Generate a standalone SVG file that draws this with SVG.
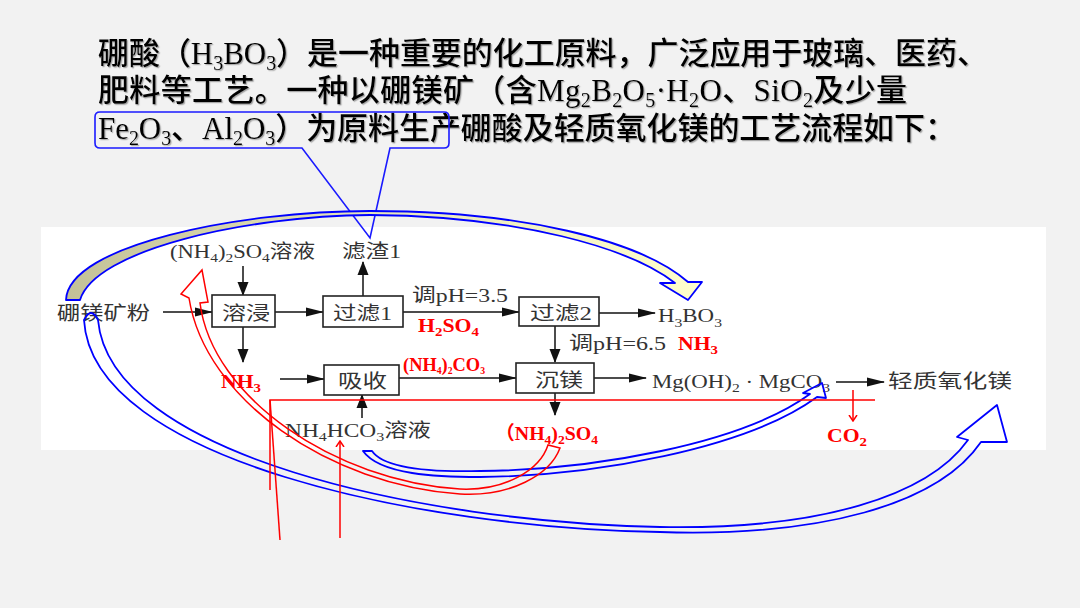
<svg xmlns="http://www.w3.org/2000/svg" width="1080" height="608" viewBox="0 0 1080 608">
<defs>
<style>
.title{font-family:"Liberation Serif","Noto Sans CJK SC",sans-serif;font-size:31px;font-weight:500;fill:#000;}
.ft{font-family:"Liberation Serif","Noto Sans CJK SC",serif;font-size:19px;fill:#333;}
.rt{font-family:"Liberation Serif","Noto Sans CJK SC",serif;font-size:19px;font-weight:bold;fill:#ff0000;}
.box{fill:#fff;stroke:#222;stroke-width:1.6;}
.ln{fill:none;stroke:#111;stroke-width:1.5;}
.red{fill:none;stroke:#ff0000;stroke-width:1.5;}
.blue{fill:none;stroke:#0000ff;stroke-width:1.8;stroke-linejoin:round;}
</style>
<marker id="ah" markerWidth="18" markerHeight="10" refX="17" refY="5" orient="auto" markerUnits="userSpaceOnUse"><path d="M0,0.5 L18,5 L0,9.5 Z" fill="#111"/></marker>
<marker id="av" markerWidth="14" markerHeight="12" refX="13" refY="6" orient="auto" markerUnits="userSpaceOnUse"><path d="M0,0.5 L14,6 L0,11.5 Z" fill="#111"/></marker>
<marker id="rv" markerWidth="7" markerHeight="10" refX="6" refY="5" orient="auto" markerUnits="userSpaceOnUse"><path d="M0,1 L6,5 L0,9" fill="none" stroke="#ff0000" stroke-width="1.5"/></marker>
<linearGradient id="olive" gradientUnits="userSpaceOnUse" x1="60" y1="0" x2="700" y2="0">
<stop offset="0" stop-color="#c2c097"/>
<stop offset="0.45" stop-color="#e4e3b8"/>
<stop offset="1" stop-color="#ffffcc"/>
</linearGradient>
<filter id="sh" x="-5%" y="-20%" width="110%" height="140%"><feDropShadow dx="1.2" dy="1.2" stdDeviation="0.6" flood-color="#777" flood-opacity="0.6"/></filter>
</defs>

<rect x="0" y="0" width="1080" height="608" fill="#f2f2f2"/>
<rect x="41" y="227" width="1005" height="223" fill="#ffffff"/>

<g id="title" filter="url(#sh)">
<text class="title" x="98" y="64" textLength="890" lengthAdjust="spacing">硼酸（H<tspan dy="6" font-size="20">3</tspan><tspan dy="-6">BO</tspan><tspan dy="6" font-size="20">3</tspan><tspan dy="-6">）是一种重要的化工原料，广泛应用于玻璃、医药、</tspan></text>
<text class="title" x="98" y="101" textLength="809" lengthAdjust="spacing">肥料等工艺。一种以硼镁矿（含Mg<tspan dy="6" font-size="20">2</tspan><tspan dy="-6">B</tspan><tspan dy="6" font-size="20">2</tspan><tspan dy="-6">O</tspan><tspan dy="6" font-size="20">5</tspan><tspan dy="-6">·H</tspan><tspan dy="6" font-size="20">2</tspan><tspan dy="-6">O、SiO</tspan><tspan dy="6" font-size="20">2</tspan><tspan dy="-6">及少量</tspan></text>
<text class="title" x="98" y="139" textLength="858" lengthAdjust="spacing">Fe<tspan dy="6" font-size="20">2</tspan><tspan dy="-6">O</tspan><tspan dy="6" font-size="20">3</tspan><tspan dy="-6">、Al</tspan><tspan dy="6" font-size="20">2</tspan><tspan dy="-6">O</tspan><tspan dy="6" font-size="20">3</tspan><tspan dy="-6">）为原料生产硼酸及轻质氧化镁的工艺流程如下：</tspan></text>
</g>

<g id="callout">
<path d="M302,148 L100,148 Q95,148 95,143 L95,117 Q95,112 100,112 L444,112 Q449,112 449,117 L449,143 Q449,148 444,148 L390,148 L370,238 Z" fill="none" stroke="#1a1aff" stroke-width="1.6"/>
</g>

<g id="connectors">
<line class="ln" x1="163" y1="312" x2="212" y2="312" marker-end="url(#ah)"/>
<line class="ln" x1="275" y1="312" x2="323" y2="312" marker-end="url(#ah)"/>
<line class="ln" x1="403" y1="312" x2="519" y2="312" marker-end="url(#ah)"/>
<line class="ln" x1="599" y1="313" x2="655" y2="313" marker-end="url(#ah)"/>
<line class="ln" x1="243" y1="266" x2="243" y2="295" marker-end="url(#av)"/>
<line class="ln" x1="363" y1="296" x2="363" y2="262" marker-end="url(#av)"/>
<line class="ln" x1="243" y1="327" x2="243" y2="362" marker-end="url(#av)"/>
<line class="ln" x1="555" y1="326" x2="555" y2="362" marker-end="url(#av)"/>
<line class="ln" x1="280" y1="379" x2="324" y2="379" marker-end="url(#ah)"/>
<line class="ln" x1="399" y1="378" x2="516" y2="378" marker-end="url(#ah)"/>
<line class="ln" x1="594" y1="378" x2="646" y2="378" marker-end="url(#ah)"/>
<line class="ln" x1="836" y1="382" x2="884" y2="382" marker-end="url(#ah)"/>
<line class="ln" x1="362" y1="418" x2="362" y2="395" marker-end="url(#av)"/>
<line class="ln" x1="555" y1="393" x2="555" y2="415" marker-end="url(#av)"/>
</g>

<g id="node-ore"><text class="ft" x="57" y="320" textLength="93" lengthAdjust="spacingAndGlyphs">硼镁矿粉</text></g>
<g id="node-nh4so4-in"><text class="ft" x="170" y="258" textLength="145" lengthAdjust="spacingAndGlyphs">(NH<tspan dy="4" font-size="13">4</tspan><tspan dy="-4">)</tspan><tspan dy="4" font-size="13">2</tspan><tspan dy="-4">SO</tspan><tspan dy="4" font-size="13">4</tspan><tspan dy="-4">溶液</tspan></text></g>
<g id="node-residue"><text class="ft" x="342" y="258" textLength="59" lengthAdjust="spacingAndGlyphs">滤渣1</text></g>
<g id="node-leach"><rect class="box" x="212" y="295" width="63" height="32"/><text class="ft" x="222" y="320" textLength="48" lengthAdjust="spacingAndGlyphs">溶浸</text></g>
<g id="node-filter1"><rect class="box" x="323" y="296" width="80" height="31"/><text class="ft" x="333" y="320" textLength="59" lengthAdjust="spacingAndGlyphs">过滤1</text></g>
<g id="node-ph35"><text class="ft" x="412" y="302" textLength="96" lengthAdjust="spacingAndGlyphs">调pH=3.5</text><text class="rt" x="418" y="332" textLength="61" lengthAdjust="spacingAndGlyphs">H<tspan dy="4" font-size="13">2</tspan><tspan dy="-4">SO</tspan><tspan dy="4" font-size="13">4</tspan></text></g>
<g id="node-filter2"><rect class="box" x="519" y="297" width="80" height="29"/><text class="ft" x="530" y="320" textLength="62" lengthAdjust="spacingAndGlyphs">过滤2</text></g>
<g id="node-h3bo3"><text class="ft" x="658" y="322" textLength="64" lengthAdjust="spacingAndGlyphs">H<tspan dy="5" font-size="13">3</tspan><tspan dy="-5">BO</tspan><tspan dy="5" font-size="13">3</tspan></text></g>
<g id="node-ph65"><text class="ft" x="569" y="350" textLength="97" lengthAdjust="spacingAndGlyphs">调pH=6.5</text><text class="rt" x="678" y="350" textLength="40" lengthAdjust="spacingAndGlyphs">NH<tspan dy="4" font-size="13">3</tspan></text></g>
<g id="node-nh3"><text class="rt" x="221" y="388" textLength="40" lengthAdjust="spacingAndGlyphs">NH<tspan dy="4" font-size="13">3</tspan></text></g>
<g id="node-absorb"><rect class="box" x="324" y="365" width="75" height="30"/><text class="ft" x="338" y="388" textLength="49" lengthAdjust="spacingAndGlyphs">吸收</text></g>
<g id="node-nh4co3"><text class="rt" x="403" y="371" font-size="14" textLength="82" lengthAdjust="spacingAndGlyphs">(NH<tspan dy="3" font-size="10">4</tspan><tspan dy="-3">)</tspan><tspan dy="3" font-size="10">2</tspan><tspan dy="-3">CO</tspan><tspan dy="3" font-size="10">3</tspan></text></g>
<g id="node-precip"><rect class="box" x="516" y="363" width="78" height="30"/><text class="ft" x="535" y="387" textLength="48" lengthAdjust="spacingAndGlyphs">沉镁</text></g>
<g id="node-mg"><text class="ft" x="652" y="388" textLength="178" lengthAdjust="spacingAndGlyphs">Mg(OH)<tspan dy="4" font-size="13">2</tspan><tspan dy="-4"> · MgCO</tspan><tspan dy="4" font-size="13">3</tspan></text></g>
<g id="node-mgo"><text class="ft" x="888" y="388" textLength="124" lengthAdjust="spacingAndGlyphs">轻质氧化镁</text></g>
<g id="node-nh4hco3"><text class="ft" x="285" y="437" textLength="146" lengthAdjust="spacingAndGlyphs">NH<tspan dy="4" font-size="13">4</tspan><tspan dy="-4">HCO</tspan><tspan dy="4" font-size="13">3</tspan><tspan dy="-4">溶液</tspan></text></g>
<g id="node-nh4so4-out"><text class="rt" x="495" y="440" textLength="103" lengthAdjust="spacingAndGlyphs">（NH<tspan dy="4" font-size="13">4</tspan><tspan dy="-4">)</tspan><tspan dy="4" font-size="13">2</tspan><tspan dy="-4">SO</tspan><tspan dy="4" font-size="13">4</tspan></text></g>
<g id="node-co2"><text class="rt" x="827" y="442" textLength="40" lengthAdjust="spacingAndGlyphs">CO<tspan dy="4" font-size="13">2</tspan></text></g>

<g id="annotation-arrows">
<path d="M66,300 C68,245 240,211 370,211 C520,211 640,240 688,282 L702,282 L688,300 L660,283 L675,283 C630,248 520,216 370,215 C245,216 95,250 80,300 Z" fill="url(#olive)" stroke="#0000ff" stroke-width="1.8" stroke-linejoin="round"/>
<path class="blue" d="M98,320 C110,455 420,522 660,527 C820,530 928,496 968,440 L957,437 L997,405 L1007,442 L981,442 C938,505 820,537 660,532 C420,528 92,460 84,320 Q91,306 98,320 Z"/>
<path class="blue" d="M372,451 C385,470 440,472 480,471 C590,470 740,445 810,394 L803,393 L822,383 L826,398 L817,397 C746,449 592,476 480,477 C438,477 380,475 363,451 Z"/>
<path class="red" d="M189,298 C205,400 330,485 460,494 C510,497 550,475 560,448 L548,445 C540,470 505,491 460,489 C335,481 212,398 200,303 L208,302 L202,270 L181,294 Z"/>
<polyline class="red" points="875,400 270,400 270,490"/>
<line class="red" x1="270" y1="400" x2="280" y2="540"/>
<line class="red" x1="340" y1="538" x2="340" y2="441" marker-end="url(#rv)"/>
<line class="red" x1="853" y1="390" x2="853" y2="421" marker-end="url(#rv)"/>
</g>
</svg>
